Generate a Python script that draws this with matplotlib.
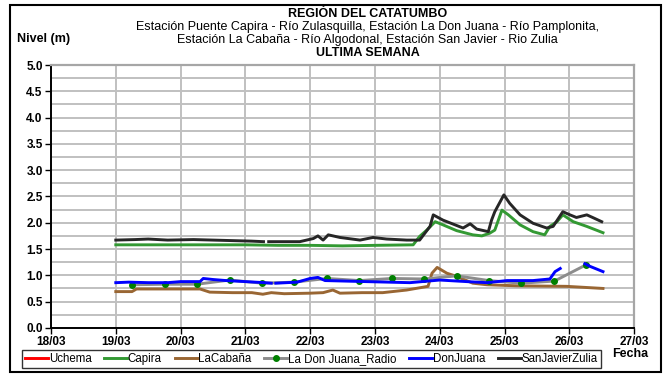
import matplotlib.pyplot as plt
from matplotlib.patches import Rectangle
from matplotlib.ticker import MultipleLocator
import numpy as np

plt.rcParams['font.family'] = ['Liberation Sans', 'DejaVu Sans']

# Time in days of March, levels in metres
san_javier_t = [19.0, 19.3, 19.5, 19.8, 20.2, 20.5, 20.8, 21.1, 21.28, np.nan, 21.36, 21.6,
                21.84, 22.05, 22.12, 22.2, 22.28, 22.46, 22.77, 22.97, 23.18, 23.49, 23.69,
                23.85, 23.9, 24.05, 24.36, 24.47, 24.57, 24.75, 24.8, 24.85, 24.99, 25.08,
                25.24, 25.44, 25.65, 25.75, 25.9, 26.01, 26.11, 26.27, 26.36, 26.5]
san_javier_v = [1.67, 1.68, 1.69, 1.67, 1.68, 1.67, 1.66, 1.65, 1.64, np.nan, 1.64, 1.64,
                1.64, 1.70, 1.75, 1.67, 1.77, 1.72, 1.67, 1.72, 1.69, 1.67, 1.67,
                1.93, 2.15, 2.05, 1.90, 1.98, 1.88, 1.83, 2.05, 2.21, 2.53, 2.37,
                2.15, 1.99, 1.90, 1.93, 2.21, 2.15, 2.10, 2.15, 2.10, 2.02]

capira_t = [19.0, 19.5, 20.0, 20.5, 21.0, 21.5, 22.0, 22.5, 23.0, 23.59, 23.69, 23.8, 23.93,
            24.05, 24.26, 24.51, 24.65, 24.77, 24.85, 24.96, 25.06, 25.24, 25.44, 25.62,
            25.7, 25.81, 25.9, 26.06, 26.27, 26.52]
capira_v = [1.58, 1.58, 1.58, 1.58, 1.58, 1.57, 1.57, 1.56, 1.57, 1.58, 1.74, 1.86, 2.02,
            1.96, 1.85, 1.77, 1.75, 1.80, 1.86, 2.24, 2.15, 1.96, 1.83, 1.77,
            1.93, 2.02, 2.15, 2.02, 1.93, 1.81]

cabana_t = [19.0, 19.25, 19.32, 19.8, 20.3, 20.45, 20.8, 21.1, 21.27, 21.4, 21.6, 22.0, 22.2,
            22.35, 22.46, 22.8, 23.12, 23.49, 23.82, 23.88, 23.96, 24.11, 24.26, 24.51,
            24.73, 25.19, 25.96, 26.52]
cabana_v = [0.69, 0.69, 0.74, 0.74, 0.74, 0.68, 0.67, 0.67, 0.64, 0.67, 0.65, 0.66, 0.67,
            0.72, 0.66, 0.67, 0.67, 0.72, 0.79, 1.04, 1.15, 1.04, 0.98, 0.85,
            0.82, 0.80, 0.79, 0.75]

radio_t = [19.25, 19.76, 20.25, 20.76, 21.26, 21.75, 22.26, 22.76, 23.26, 23.76, 24.26,
           24.76, 25.25, 25.77, 26.26]
radio_v = [0.82, 0.83, 0.83, 0.91, 0.85, 0.87, 0.94, 0.90, 0.94, 0.93, 0.99,
           0.90, 0.85, 0.89, 1.20]

don_juana_t = [19.0, 19.2, 19.5, 19.8, 20.0, 20.3, 20.35, 20.5, 20.7, 21.0, 21.3, 21.4, np.nan,
               21.47, 21.8, 22.0, 22.12, 22.23, 22.87, 23.54, 24.0, 24.42, 24.73, 25.04,
               25.44, 25.7, 25.78, 25.86, np.nan, 26.24, 26.32, 26.52]
don_juana_v = [0.86, 0.87, 0.86, 0.86, 0.88, 0.88, 0.94, 0.92, 0.90, 0.88, 0.86, 0.85, np.nan,
               0.85, 0.87, 0.94, 0.96, 0.90, 0.88, 0.86, 0.91, 0.88, 0.86, 0.90,
               0.90, 0.93, 1.07, 1.13, np.nan, 1.22, 1.17, 1.07]

uchema_t = []
uchema_v = []

day_ticks = [18, 19, 20, 21, 22, 23, 24, 25, 26, 27]
day_labels = ['18/03', '19/03', '20/03', '21/03', '22/03', '23/03', '24/03', '25/03',
              '26/03', '27/03']

fig = plt.figure(figsize=(6.71, 3.76), dpi=100)
ax = fig.add_axes([0.076, 0.128, 0.869, 0.699])

lw = 2.1
ax.plot(uchema_t, uchema_v, color='#ff0000', lw=lw, label='Uchema')
ax.plot(capira_t, capira_v, color='#339933', lw=lw, label='Capira')
ax.plot(cabana_t, cabana_v, color='#996633', lw=lw, label='LaCabaña')
ax.plot(radio_t, radio_v, color='#8c8c8c', lw=lw, marker='o', ms=4,
        mfc='#008000', mec='#008000', label='La Don Juana_Radio')
ax.plot(don_juana_t, don_juana_v, color='#0000ff', lw=lw, label='DonJuana')
ax.plot(san_javier_t, san_javier_v, color='#262626', lw=lw, label='SanJavierZulia')

ax.set_xlim(18, 27)
ax.set_ylim(0, 5)
ax.set_xticks(day_ticks)
ax.set_xticklabels(day_labels)
ax.yaxis.set_major_locator(MultipleLocator(0.5))
ax.yaxis.set_minor_locator(MultipleLocator(0.25))
ax.set_yticklabels([f'{v:.1f}' for v in ax.get_yticks()])
ax.grid(True, which='both', color='#c0c0c0', lw=1.4)
ax.set_axisbelow(True)
ax.tick_params(which='major', direction='out', length=4, width=1, labelsize=8.5, pad=2)
ax.tick_params(which='minor', length=0)
for lab in ax.get_xticklabels() + ax.get_yticklabels():
    lab.set_fontweight('bold')
for side in ['left', 'bottom']:
    ax.spines[side].set_color('black')
    ax.spines[side].set_linewidth(1.4)
for side in ['top', 'right']:
    ax.spines[side].set_color('#a6a6a6')
    ax.spines[side].set_linewidth(1.6)

# titles
tx = 0.548
fig.text(tx, 0.963, 'REGIÓN DEL CATATUMBO', ha='center', va='center', fontsize=9,
         fontweight='bold')
fig.text(tx, 0.928, 'Estación Puente Capira - Río Zulasquilla, Estación La Don Juana - Río Pamplonita,',
         ha='center', va='center', fontsize=9)
fig.text(tx, 0.893, 'Estación La Cabaña - Río Algodonal, Estación San Javier - Rio Zulia',
         ha='center', va='center', fontsize=9)
fig.text(tx, 0.858, 'ULTIMA SEMANA', ha='center', va='center', fontsize=9,
         fontweight='bold')
fig.text(0.025, 0.896, 'Nivel (m)', ha='left', va='center', fontsize=9, fontweight='bold')
fig.text(0.912, 0.058, 'Fecha', ha='left', va='center', fontsize=9, fontweight='bold')

leg = fig.legend(loc='lower left', bbox_to_anchor=(0.033, 0.021, 0.862, 0.058),
                 mode='expand', ncol=6, borderaxespad=0, fontsize=8.3, frameon=True,
                 fancybox=False, edgecolor='black', handlelength=2.0, handletextpad=0.05,
                 borderpad=0.25, columnspacing=0.6)
leg.get_frame().set_linewidth(1.0)

# outer border of the chart
fig.patches.append(Rectangle((0.015, 0.011), 0.97, 0.976, transform=fig.transFigure,
                             fill=False, edgecolor='black', lw=1.5))

fig.savefig('out.png', dpi=100)
